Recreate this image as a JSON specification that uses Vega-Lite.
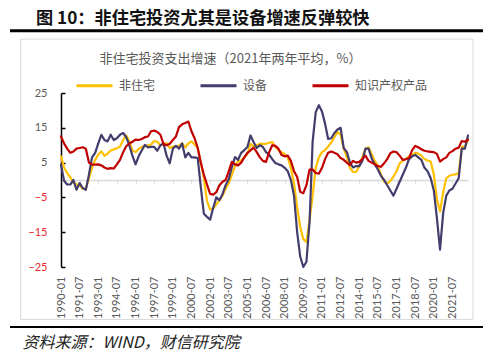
{
  "$schema": "https://vega.github.io/schema/vega-lite/v6.json",
  "width": 407,
  "height": 174,
  "autosize": "none",
  "padding": {"left": 61, "top": 93, "right": 32, "bottom": 93},
  "background": "white",
  "config": {"view": {"stroke": null}, "font": "Noto Sans CJK SC"},
  "title": {
    "text": "图 10：非住宅投资尤其是设备增速反弹较快",
    "anchor": "start",
    "frame": "group",
    "dx": -25,
    "offset": -16,
    "baseline": "bottom",
    "fontSize": 17.2,
    "fontWeight": "bold",
    "font": "Noto Sans CJK SC",
    "color": "#111111"
  },
  "resolve": {"axis": {"x": "independent", "y": "independent"}},
  "layer": [
    {
      "data": {"values": [
        {"d":"1990-01-01","非住宅":6.8,"设备":4.4,"知识产权产品":12.5},
        {"d":"1990-04-01","非住宅":3.6,"设备":-0.2,"知识产权产品":10.5},
        {"d":"1990-07-01","非住宅":2.0,"设备":-1.3,"知识产权产品":9.0},
        {"d":"1990-10-01","非住宅":0.8,"设备":-1.3,"知识产权产品":7.8},
        {"d":"1991-01-01","非住宅":-0.8,"设备":0.0,"知识产权产品":8.2},
        {"d":"1991-04-01","非住宅":-1.2,"设备":-2.8,"知识产权产品":9.0},
        {"d":"1991-07-01","非住宅":-1.6,"设备":-0.9,"知识产权产品":9.2},
        {"d":"1991-10-01","非住宅":-2.5,"设备":-2.3,"知识产权产品":9.4},
        {"d":"1992-01-01","非住宅":-2.6,"设备":-2.8,"知识产权产品":9.0},
        {"d":"1992-04-01","非住宅":0.5,"设备":1.5,"知识产权产品":5.0},
        {"d":"1992-07-01","非住宅":3.5,"设备":6.5,"知识产权产品":4.4},
        {"d":"1992-10-01","非住宅":5.8,"设备":7.8,"知识产权产品":4.4},
        {"d":"1993-01-01","非住宅":7.3,"设备":10.5,"知识产权产品":4.5},
        {"d":"1993-04-01","非住宅":8.2,"设备":13.0,"知识产权产品":4.2},
        {"d":"1993-07-01","非住宅":6.9,"设备":11.5,"知识产权产品":3.6},
        {"d":"1993-10-01","非住宅":7.6,"设备":11.1,"知识产权产品":3.2},
        {"d":"1994-01-01","非住宅":8.5,"设备":13.0,"知识产权产品":3.4},
        {"d":"1994-04-01","非住宅":8.8,"设备":11.5,"知识产权产品":3.3},
        {"d":"1994-07-01","非住宅":9.1,"设备":12.0,"知识产权产品":4.5},
        {"d":"1994-10-01","非住宅":9.6,"设备":13.0,"知识产权产品":5.8},
        {"d":"1995-01-01","非住宅":11.5,"设备":13.5,"知识产权产品":8.0},
        {"d":"1995-04-01","非住宅":12.8,"设备":12.3,"知识产权产品":9.7},
        {"d":"1995-07-01","非住宅":11.1,"设备":10.0,"知识产权产品":10.5},
        {"d":"1995-10-01","非住宅":8.5,"设备":7.0,"知识产权产品":11.0},
        {"d":"1996-01-01","非住宅":8.0,"设备":4.5,"知识产权产品":11.6},
        {"d":"1996-04-01","非住宅":8.9,"设备":6.8,"知识产权产品":11.5},
        {"d":"1996-07-01","非住宅":9.5,"设备":8.5,"知识产权产品":11.8},
        {"d":"1996-10-01","非住宅":9.7,"设备":10.1,"知识产权产品":12.3},
        {"d":"1997-01-01","非住宅":10.0,"设备":9.4,"知识产权产品":12.5},
        {"d":"1997-04-01","非住宅":10.2,"设备":9.5,"知识产权产品":14.0},
        {"d":"1997-07-01","非住宅":11.2,"设备":9.5,"知识产权产品":14.2},
        {"d":"1997-10-01","非住宅":11.0,"设备":8.4,"知识产权产品":13.8},
        {"d":"1998-01-01","非住宅":9.9,"设备":10.0,"知识产权产品":13.0},
        {"d":"1998-04-01","非住宅":10.3,"设备":10.5,"知识产权产品":10.3},
        {"d":"1998-07-01","非住宅":10.6,"设备":7.0,"知识产权产品":10.0},
        {"d":"1998-10-01","非住宅":9.2,"设备":4.8,"知识产权产品":10.4},
        {"d":"1999-01-01","非住宅":9.6,"设备":9.0,"知识产权产品":11.5},
        {"d":"1999-04-01","非住宅":9.7,"设备":9.8,"知识产权产品":12.5},
        {"d":"1999-07-01","非住宅":9.8,"设备":9.0,"知识产权产品":15.2},
        {"d":"1999-10-01","非住宅":10.5,"设备":10.5,"知识产权产品":16.0},
        {"d":"2000-01-01","非住宅":9.4,"设备":6.5,"知识产权产品":16.4},
        {"d":"2000-04-01","非住宅":10.5,"设备":7.8,"知识产权产品":16.8},
        {"d":"2000-07-01","非住宅":11.1,"设备":6.5,"知识产权产品":14.0},
        {"d":"2000-10-01","非住宅":10.2,"设备":6.5,"知识产权产品":12.0},
        {"d":"2001-01-01","非住宅":9.2,"设备":6.3,"知识产权产品":9.2},
        {"d":"2001-04-01","非住宅":5.0,"设备":-2.0,"知识产权产品":5.0},
        {"d":"2001-07-01","非住宅":0.5,"设备":-9.7,"知识产权产品":1.5},
        {"d":"2001-10-01","非住宅":-6.0,"设备":-10.6,"知识产权产品":-1.3},
        {"d":"2002-01-01","非住宅":-8.5,"设备":-11.4,"知识产权产品":-4.0},
        {"d":"2002-04-01","非住宅":-8.2,"设备":-8.0,"知识产权产品":-4.2},
        {"d":"2002-07-01","非住宅":-7.0,"设备":-5.0,"知识产权产品":-3.5},
        {"d":"2002-10-01","非住宅":-5.8,"设备":-5.8,"知识产权产品":-1.5},
        {"d":"2003-01-01","非住宅":-4.5,"设备":-4.0,"知识产权产品":-0.5},
        {"d":"2003-04-01","非住宅":-2.5,"设备":-1.5,"知识产权产品":0.0},
        {"d":"2003-07-01","非住宅":-1.0,"设备":0.2,"知识产权产品":2.5},
        {"d":"2003-10-01","非住宅":1.5,"设备":3.7,"知识产权产品":5.2},
        {"d":"2004-01-01","非住宅":4.0,"设备":6.6,"知识产权产品":4.5},
        {"d":"2004-04-01","非住宅":5.4,"设备":5.8,"知识产权产品":4.2},
        {"d":"2004-07-01","非住宅":5.6,"设备":7.8,"知识产权产品":5.0},
        {"d":"2004-10-01","非住宅":6.5,"设备":8.6,"知识产权产品":6.5},
        {"d":"2005-01-01","非住宅":7.5,"设备":9.5,"知识产权产品":7.8},
        {"d":"2005-04-01","非住宅":10.4,"设备":12.8,"知识产权产品":8.5},
        {"d":"2005-07-01","非住宅":9.6,"设备":10.9,"知识产权产品":9.3},
        {"d":"2005-10-01","非住宅":10.0,"设备":9.2,"知识产权产品":8.0},
        {"d":"2006-01-01","非住宅":10.4,"设备":10.0,"知识产权产品":6.5},
        {"d":"2006-04-01","非住宅":10.4,"设备":9.5,"知识产权产品":5.5},
        {"d":"2006-07-01","非住宅":10.4,"设备":8.0,"知识产权产品":5.2},
        {"d":"2006-10-01","非住宅":10.7,"设备":7.3,"知识产权产品":8.0},
        {"d":"2007-01-01","非住宅":10.9,"设备":6.0,"知识产权产品":10.0},
        {"d":"2007-04-01","非住宅":9.5,"设备":4.9,"知识产权产品":9.8},
        {"d":"2007-07-01","非住宅":8.6,"设备":4.5,"知识产权产品":9.0},
        {"d":"2007-10-01","非住宅":8.0,"设备":4.2,"知识产权产品":7.2},
        {"d":"2008-01-01","非住宅":7.5,"设备":3.5,"知识产权产品":6.8},
        {"d":"2008-04-01","非住宅":6.5,"设备":2.5,"知识产权产品":7.0},
        {"d":"2008-07-01","非住宅":3.5,"设备":0.0,"知识产权产品":5.5},
        {"d":"2008-10-01","非住宅":-1.0,"设备":-4.5,"知识产权产品":2.5},
        {"d":"2009-01-01","非住宅":-7.8,"设备":-15.0,"知识产权产品":0.9},
        {"d":"2009-04-01","非住宅":-13.5,"设备":-22.0,"知识产权产品":-3.4},
        {"d":"2009-07-01","非住宅":-17.0,"设备":-25.0,"知识产权产品":-3.8},
        {"d":"2009-10-01","非住宅":-17.8,"设备":-23.5,"知识产权产品":-1.5},
        {"d":"2010-01-01","非住宅":-11.5,"设备":-12.0,"知识产权产品":3.0},
        {"d":"2010-04-01","非住宅":-4.5,"设备":11.0,"知识产权产品":3.0},
        {"d":"2010-07-01","非住宅":3.5,"设备":19.5,"知识产权产品":2.0},
        {"d":"2010-10-01","非住宅":6.5,"设备":21.5,"知识产权产品":1.8},
        {"d":"2011-01-01","非住宅":8.0,"设备":19.7,"知识产权产品":3.5},
        {"d":"2011-04-01","非住宅":8.6,"设备":16.2,"知识产权产品":6.0},
        {"d":"2011-07-01","非住宅":9.6,"设备":11.8,"知识产权产品":7.8},
        {"d":"2011-10-01","非住宅":10.8,"设备":12.0,"知识产权产品":8.2},
        {"d":"2012-01-01","非住宅":12.3,"设备":13.5,"知识产权产品":7.8},
        {"d":"2012-04-01","非住宅":13.8,"设备":14.5,"知识产权产品":7.4},
        {"d":"2012-07-01","非住宅":13.0,"设备":15.0,"知识产权产品":6.3},
        {"d":"2012-10-01","非住宅":9.0,"设备":9.2,"知识产权产品":5.8},
        {"d":"2013-01-01","非住宅":6.5,"设备":8.0,"知识产权产品":5.0},
        {"d":"2013-04-01","非住宅":3.5,"设备":5.0,"知识产权产品":4.3},
        {"d":"2013-07-01","非住宅":2.3,"设备":3.6,"知识产权产品":5.5},
        {"d":"2013-10-01","非住宅":2.3,"设备":4.0,"知识产权产品":5.0},
        {"d":"2014-01-01","非住宅":4.0,"设备":4.0,"知识产权产品":5.2},
        {"d":"2014-04-01","非住宅":6.5,"设备":5.5,"知识产权产品":6.0},
        {"d":"2014-07-01","非住宅":9.0,"设备":9.0,"知识产权产品":7.0},
        {"d":"2014-10-01","非住宅":9.4,"设备":9.0,"知识产权产品":5.5},
        {"d":"2015-01-01","非住宅":7.5,"设备":6.2,"知识产权产品":5.0},
        {"d":"2015-04-01","非住宅":5.5,"设备":4.5,"知识产权产品":4.5},
        {"d":"2015-07-01","非住宅":4.0,"设备":3.0,"知识产权产品":4.0},
        {"d":"2015-10-01","非住宅":1.5,"设备":1.2,"知识产权产品":3.8},
        {"d":"2016-01-01","非住宅":-0.5,"设备":0.0,"知识产权产品":4.8},
        {"d":"2016-04-01","非住宅":-1.0,"设备":-1.5,"知识产权产品":6.0},
        {"d":"2016-07-01","非住宅":-0.3,"设备":-3.0,"知识产权产品":7.7},
        {"d":"2016-10-01","非住宅":1.0,"设备":-4.5,"知识产权产品":8.2},
        {"d":"2017-01-01","非住宅":2.5,"设备":-2.5,"知识产权产品":8.0},
        {"d":"2017-04-01","非住宅":4.8,"设备":-0.5,"知识产权产品":7.0},
        {"d":"2017-07-01","非住宅":5.5,"设备":1.5,"知识产权产品":5.8},
        {"d":"2017-10-01","非住宅":6.0,"设备":3.5,"知识产权产品":6.0},
        {"d":"2018-01-01","非住宅":6.8,"设备":6.0,"知识产权产品":6.3},
        {"d":"2018-04-01","非住宅":7.3,"设备":6.8,"知识产权产品":8.5},
        {"d":"2018-07-01","非住宅":7.8,"设备":7.2,"知识产权产品":9.8},
        {"d":"2018-10-01","非住宅":7.6,"设备":6.5,"知识产权产品":9.4},
        {"d":"2019-01-01","非住宅":7.0,"设备":5.8,"知识产权产品":8.8},
        {"d":"2019-04-01","非住宅":6.0,"设备":3.5,"知识产权产品":8.4},
        {"d":"2019-07-01","非住宅":5.6,"设备":2.5,"知识产权产品":8.2},
        {"d":"2019-10-01","非住宅":5.3,"设备":0.5,"知识产权产品":8.1},
        {"d":"2020-01-01","非住宅":1.5,"设备":-3.0,"知识产权产品":8.0},
        {"d":"2020-04-01","非住宅":-5.5,"设备":-11.0,"知识产权产品":7.5},
        {"d":"2020-07-01","非住宅":-9.0,"设备":-20.0,"知识产权产品":5.3},
        {"d":"2020-10-01","非住宅":-3.5,"设备":-9.5,"知识产权产品":6.0},
        {"d":"2021-01-01","非住宅":0.5,"设备":-4.5,"知识产权产品":6.5},
        {"d":"2021-04-01","非住宅":1.2,"设备":-3.0,"知识产权产品":7.8},
        {"d":"2021-07-01","非住宅":1.5,"设备":-2.5,"知识产权产品":8.3},
        {"d":"2021-10-01","非住宅":1.6,"设备":-1.0,"知识产权产品":9.0},
        {"d":"2022-01-01","非住宅":2.0,"设备":0.5,"知识产权产品":9.3},
        {"d":"2022-04-01","非住宅":9.5,"设备":9.0,"知识产权产品":11.2},
        {"d":"2022-07-01","非住宅":9.5,"设备":9.0,"知识产权产品":11.0},
        {"d":"2022-10-01","非住宅":11.5,"设备":12.8,"知识产权产品":11.6}
      ]},
      "transform": [{"fold": ["非住宅", "设备", "知识产权产品"], "as": ["s", "v"]}],
      "mark": {"type": "line", "strokeWidth": 2.2, "strokeJoin": "round", "strokeCap": "round"},
      "encoding": {
        "x": {
          "field": "d", "type": "temporal",
          "scale": {"type": "utc", "domain": [{"year": 1990, "month": 1, "date": 1, "utc": true}, {"year": 2022, "month": 10, "date": 1, "utc": true}]},
          "axis": {
            "values": [
              {"year": 1990, "month": 1, "date": 1, "utc": true},
              {"year": 1991, "month": 7, "date": 1, "utc": true},
              {"year": 1993, "month": 1, "date": 1, "utc": true},
              {"year": 1994, "month": 7, "date": 1, "utc": true},
              {"year": 1996, "month": 1, "date": 1, "utc": true},
              {"year": 1997, "month": 7, "date": 1, "utc": true},
              {"year": 1999, "month": 1, "date": 1, "utc": true},
              {"year": 2000, "month": 7, "date": 1, "utc": true},
              {"year": 2002, "month": 1, "date": 1, "utc": true},
              {"year": 2003, "month": 7, "date": 1, "utc": true},
              {"year": 2005, "month": 1, "date": 1, "utc": true},
              {"year": 2006, "month": 7, "date": 1, "utc": true},
              {"year": 2008, "month": 1, "date": 1, "utc": true},
              {"year": 2009, "month": 7, "date": 1, "utc": true},
              {"year": 2011, "month": 1, "date": 1, "utc": true},
              {"year": 2012, "month": 7, "date": 1, "utc": true},
              {"year": 2014, "month": 1, "date": 1, "utc": true},
              {"year": 2015, "month": 7, "date": 1, "utc": true},
              {"year": 2017, "month": 1, "date": 1, "utc": true},
              {"year": 2018, "month": 7, "date": 1, "utc": true},
              {"year": 2020, "month": 1, "date": 1, "utc": true},
              {"year": 2021, "month": 7, "date": 1, "utc": true}
            ],
            "format": "%Y-%m",
            "labelAngle": -90,
            "labelFontSize": 11,
            "labelFont": "Lato",
            "labelColor": "#595959",
            "labelOverlap": false,
            "labelFlush": false,
            "domainColor": "#d9d9d9",
            "domainWidth": 1.5,
            "tickColor": "#d9d9d9",
            "tickSize": 3,
            "tickWidth": 1,
            "offset": -87,
            "labelPadding": 93,
            "grid": false,
            "title": "资料来源：WIND，财信研究院",
            "titleX": -39,
            "titleY": 162,
            "titleAlign": "left",
            "titleBaseline": "middle",
            "titleAngle": 0,
            "titleFontSize": 16,
            "titleFontStyle": "italic",
            "titleFontWeight": "normal",
            "titleFont": "Noto Sans CJK SC",
            "titleColor": "#222222"
          }
        },
        "y": {
          "field": "v", "type": "quantitative",
          "scale": {"domain": [-25, 25], "nice": false},
          "axis": {
            "values": [-25, -15, -5, 5, 15, 25],
            "domainColor": "#000000",
            "domainWidth": 1.5,
            "tickColor": "#000000",
            "tickWidth": 1.5,
            "tickSize": -4,
            "labelPadding": 18,
            "labelFontSize": 11,
            "labelFont": "Lato",
            "labelOverlap": false,
            "labelFlush": false,
            "labelColor": {"condition": {"test": "datum.value < 0", "value": "#E8262B"}, "value": "#595959"},
            "grid": false,
            "title": "非住宅投资支出增速（2021年两年平均，%）",
            "titleAngle": 0,
            "titleX": 169,
            "titleY": -35,
            "titleAlign": "center",
            "titleBaseline": "middle",
            "titleFontSize": 13,
            "titleFontWeight": "normal",
            "titleFont": "Noto Sans CJK SC",
            "titleColor": "#595959"
          }
        },
        "color": {
          "field": "s", "type": "nominal",
          "scale": {"domain": ["非住宅", "设备", "知识产权产品"], "range": ["#FFC000", "#433D6E", "#C00000"]},
          "legend": {
            "orient": "none",
            "legendX": 14,
            "legendY": -27,
            "direction": "horizontal",
            "title": null,
            "symbolType": "stroke",
            "symbolSize": 1296,
            "symbolStrokeWidth": 3,
            "labelFontSize": 12,
            "labelFont": "Noto Sans CJK SC",
            "labelColor": "#595959",
            "labelOffset": 5,
            "columnPadding": 38,
            "padding": 0
          }
        }
      }
    },
    {
      "data": {"values": [{}]},
      "mark": {"type": "rect", "fill": "transparent", "stroke": "#d9d9d9", "strokeWidth": 1},
      "encoding": {
        "x": {"datum": {"year": 1986, "month": 10, "date": 5, "utc": true}, "type": "temporal", "scale": {"type": "utc", "domain": [{"year": 1990, "month": 1, "date": 1, "utc": true}, {"year": 2022, "month": 10, "date": 1, "utc": true}]}, "axis": null},
        "x2": {"datum": {"year": 2023, "month": 2, "date": 24, "utc": true}},
        "y": {"datum": 40.5, "type": "quantitative", "scale": {"domain": [-25, 25], "nice": false}, "axis": null},
        "y2": {"datum": -40.1}
      }
    },
    {
      "data": {"values": [{}]},
      "mark": {"type": "rule", "color": "#000000", "strokeWidth": 3},
      "encoding": {
        "x": {"datum": {"year": 1985, "month": 11, "date": 24, "utc": true}, "type": "temporal", "scale": {"type": "utc", "domain": [{"year": 1990, "month": 1, "date": 1, "utc": true}, {"year": 2022, "month": 10, "date": 1, "utc": true}]}, "axis": null},
        "x2": {"datum": {"year": 2023, "month": 12, "date": 15, "utc": true}},
        "y": {"datum": 42.9, "type": "quantitative", "scale": {"domain": [-25, 25], "nice": false}, "axis": null}
      }
    },
    {
      "data": {"values": [{}]},
      "mark": {"type": "rule", "color": "#000000", "strokeWidth": 2},
      "encoding": {
        "x": {"datum": {"year": 1985, "month": 11, "date": 24, "utc": true}, "type": "temporal", "scale": {"type": "utc", "domain": [{"year": 1990, "month": 1, "date": 1, "utc": true}, {"year": 2022, "month": 10, "date": 1, "utc": true}]}, "axis": null},
        "x2": {"datum": {"year": 2023, "month": 12, "date": 15, "utc": true}},
        "y": {"datum": -42.24, "type": "quantitative", "scale": {"domain": [-25, 25], "nice": false}, "axis": null}
      }
    }
  ]
}
